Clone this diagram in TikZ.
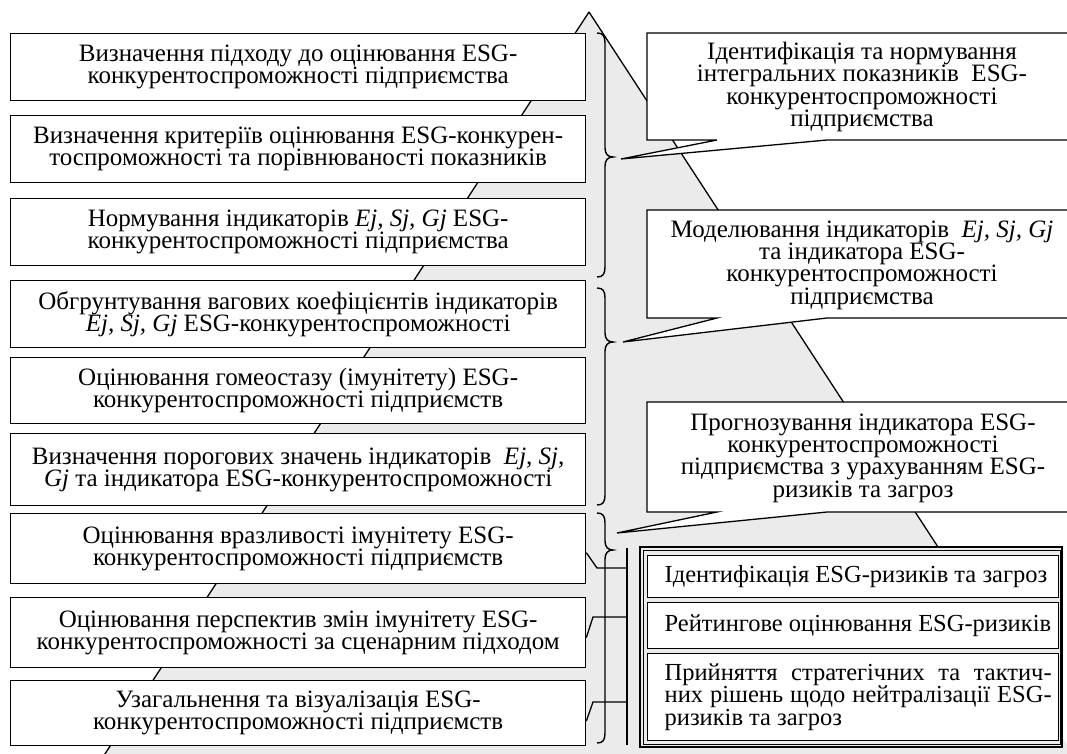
\documentclass[tikz,border=0pt]{standalone}
\usepackage{fontspec}
\setmainfont{Liberation Serif}
\usetikzlibrary{calc}
\definecolor{bg}{HTML}{EBEBEB}
\begin{document}
\begin{tikzpicture}[x=1pt,y=-1pt,line width=1.3pt,
  txt/.style={font=\fontsize{25}{22.3}\selectfont, align=center, inner sep=0pt},
  rtxt/.style={font=\fontsize{24.5}{22.3}\selectfont, align=left, inner sep=0pt, anchor=west},
  lbox/.style={draw, fill=white, txt, minimum width=575pt, anchor=north west},
  rbox/.style={draw, fill=white, minimum width=411pt, anchor=north west, inner sep=0pt},
  callout/.style={draw, fill=white, line join=miter},
  brace/.style={line width=1.4pt},
  link/.style={line width=1.3pt}]
\useasboundingbox (0,0) rectangle (1067,754);
% background pyramid
\fill[bg] (589,12) -- (101,760) -- (1077,760) -- cycle;
\coordinate (apex) at (589,12);
\coordinate (leftfoot) at (101,760);
\coordinate (rightfoot) at (938,547);
\draw (apex) -- (leftfoot);
\draw (apex) -- (rightfoot);
% left boxes
\node[lbox, minimum height=67pt] (b1) at (10,33) {Визначення підходу до оцінювання ESG-\\конкурентоспроможності підприємства};
\node[lbox, minimum height=67pt] (b2) at (10,115) {Визначення критеріїв оцінювання ESG-конкурен-\\тоспроможності та порівнюваності показників};
\node[lbox, minimum height=67pt] (b3) at (10,198) {Нормування індикаторів \textit{Ej, Sj, Gj} ESG-\\конкурентоспроможності підприємства};
\node[lbox, minimum height=67pt] (b4) at (10,280) {Обгрунтування вагових коефіцієнтів індикаторів\\\textit{Ej, Sj, Gj} ESG-конкурентоспроможності};
\node[lbox, minimum height=66pt] (b5) at (10,357) {Оцінювання гомеостазу (імунітету) ESG-\\конкурентоспроможності підприємств};
\node[lbox, minimum height=72pt] (b6) at (10,433) {Визначення порогових значень індикаторів \ \textit{Ej, Sj,}\\\textit{Gj} та індикатора ESG-конкурентоспроможності};
\node[lbox, minimum height=70pt] (b7) at (10,513) {Оцінювання вразливості імунітету ESG-\\конкурентоспроможності підприємств};
\node[lbox, minimum height=70pt] (b8) at (10,597) {Оцінювання перспектив змін імунітету ESG-\\конкурентоспроможності за сценарним підходом};
\node[lbox, minimum height=65pt] (b9) at (10,680) {Узагальнення та візуалізація ESG-\\конкурентоспроможності підприємств};
% braces
\draw[brace] (597,33) .. controls (603,33) and (605,36) .. (605,43) -- (605,148) .. controls (605,154) and (608,157) .. (613,157) .. controls (608,157) and (605,160) .. (605,166) -- (605,267) .. controls (605,274) and (603,277) .. (597,277);
\draw[brace] (597,288) .. controls (603,288) and (605,291) .. (605,298) -- (605,333) .. controls (605,339) and (608,342) .. (613,342) .. controls (608,342) and (605,345) .. (605,351) -- (605,495) .. controls (605,502) and (603,505) .. (597,505);
\draw[brace] (597,513) .. controls (603,513) and (605,516) .. (605,523) -- (605,541) .. controls (605,547) and (608,550) .. (613,550) .. controls (608,550) and (605,553) .. (605,559) -- (605,733) .. controls (605,740) and (603,743) .. (597,743);
% callouts
\draw[callout] (827,140) -- (1085,140) -- (1085,33) -- (647,33) -- (647,140) -- (717,140) -- (621,159) -- cycle;
\node[txt] (c1) at (862,87) {Ідентифікація та нормування\\інтегральних показників \ ESG-\\конкурентоспроможності\\підприємства};
\draw[callout] (827,318) -- (1085,318) -- (1085,210) -- (647,210) -- (647,318) -- (717,318) -- (623,342) -- cycle;
\node[txt] (c2) at (862,265) {Моделювання індикаторів \ \textit{Ej, Sj, Gj}\\та індикатора ESG-\\конкурентоспроможності\\підприємства};
\draw[callout] (827,512) -- (1085,512) -- (1085,402) -- (647,402) -- (647,512) -- (717,512) -- (617,533) -- cycle;
\node[txt] (c3) at (863,458) {Прогнозування індикатора ESG-\\конкурентоспроможності\\підприємства з урахуванням ESG-\\ризиків та загроз};
% risk frame
\draw[fill=bg] (640,547) rectangle (1062,747);
\draw[line width=0.9pt] (643.5,550.5) rectangle (1060,744);
\node[rbox, minimum height=42pt] (rA) at (647,555) {};
\node[rbox, minimum height=46pt] (rB) at (647,602) {};
\node[rbox, minimum height=87pt] (rC) at (647,653) {};
\node[rtxt] (tA) at ([xshift=17pt]rA.west) {Ідентифікація ESG-ризиків та загроз};
\node[rtxt] (tB) at ([xshift=17pt]rB.west) {Рейтингове оцінювання ESG-ризиків};
\node[rtxt] (tC) at ([xshift=17pt]rC.west) {\makebox[387pt][s]{Прийняття стратегічних та тактич-}\\\makebox[387pt][s]{них рішень щодо нейтралізації ESG-}\\ризиків та загроз};
% bus to risk block
\coordinate (bust) at (627,548);
\coordinate (busb) at (627,745);
\draw[link] (bust) -- (busb);
\draw[link] ([yshift=-4pt]b7.east) -- (597,568) -- (627,568);
\draw[link] ([yshift=-5pt]b8.east) -- (593,617) -- (627,617);
\draw[link] ([yshift=-8pt]b9.east) -- (593,702) -- (627,702);
\end{tikzpicture}
\end{document}
